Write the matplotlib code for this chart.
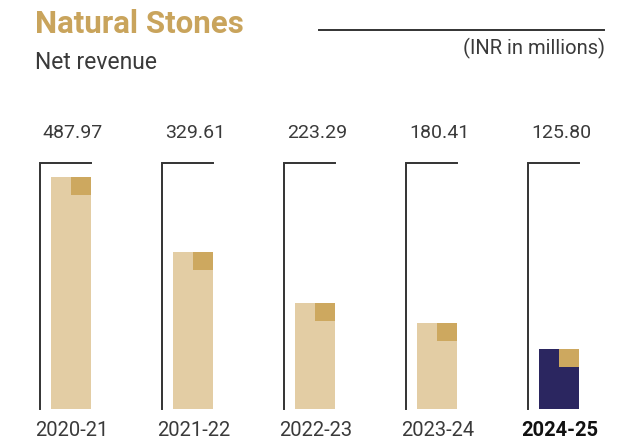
import matplotlib
matplotlib.use('Agg')
import matplotlib.pyplot as plt

# data
years = ['2020-21', '2021-22', '2022-23', '2023-24', '2024-25']
revenue = [487.97, 329.61, 223.29, 180.41, 125.80]
value_labels = ['487.97', '329.61', '223.29', '180.41', '125.80']

plt.rcParams['font.family'] = ['Roboto', 'DejaVu Sans']

W, H = 636, 442
PX = 0.4754          # pixels per INR million
SLOT = 122.0         # pixels between groups
base_px = 409        # pixel row of the zero line
x0_px = 71           # centre of first bar

light = '#E3CDA4'
gold = '#CDA85F'
navy = '#2B2660'
ink = '#3a3a3a'

fig = plt.figure(figsize=(W / 100, H / 100), dpi=100)
ax = fig.add_axes([0, 0, 1, 1])
ax.set_xlim(-x0_px / SLOT, (W - x0_px) / SLOT)
ax.set_ylim(-(H - base_px) / PX, base_px / PX)
ax.axis('off')

bar_w = 40 / SLOT
sq_w = 20 / SLOT
sq_h = 18 / PX
bracket_top = (base_px - 163) / PX
bracket_dx = 31 / SLOT

for i, (yr, v, lab) in enumerate(zip(years, revenue, value_labels)):
    last = i == len(years) - 1
    ax.bar(i, v, width=bar_w, color=navy if last else light, linewidth=0)
    ax.bar(i + bar_w / 2 - sq_w / 2, sq_h, width=sq_w, bottom=v - sq_h,
           color=gold, linewidth=0)
    bx = i - bracket_dx
    ax.plot([bx, bx, i + bar_w / 2], [0, bracket_top, bracket_top],
            color='#333333', lw=1.4, solid_joinstyle='miter')
    ax.text(i + 2 / SLOT, (base_px - 138) / PX, lab, ha='center', va='baseline',
            fontsize=14, color=ink)
    ax.text(i + 1 / SLOT, -(436 - base_px) / PX, yr, ha='center', va='baseline',
            fontsize=14.5, color='#111111' if last else ink,
            fontweight='bold' if last else 'normal')

fig.text(35 / W, 1 - 33 / H, 'Natural Stones', fontsize=22.5, fontweight='bold',
         color='#C9A45C', ha='left', va='baseline')
fig.text(35 / W, 1 - 69 / H, 'Net revenue', fontsize=16.5, color=ink,
         ha='left', va='baseline')
fig.text(605 / W, 1 - 54 / H, '(INR in millions)', fontsize=14.5, color=ink,
         ha='right', va='baseline')
fig.add_artist(plt.Line2D([319 / W, 604 / W], [1 - 30 / H, 1 - 30 / H],
                          color='#333333', lw=1.4))

fig.savefig('out.png', dpi=100)
